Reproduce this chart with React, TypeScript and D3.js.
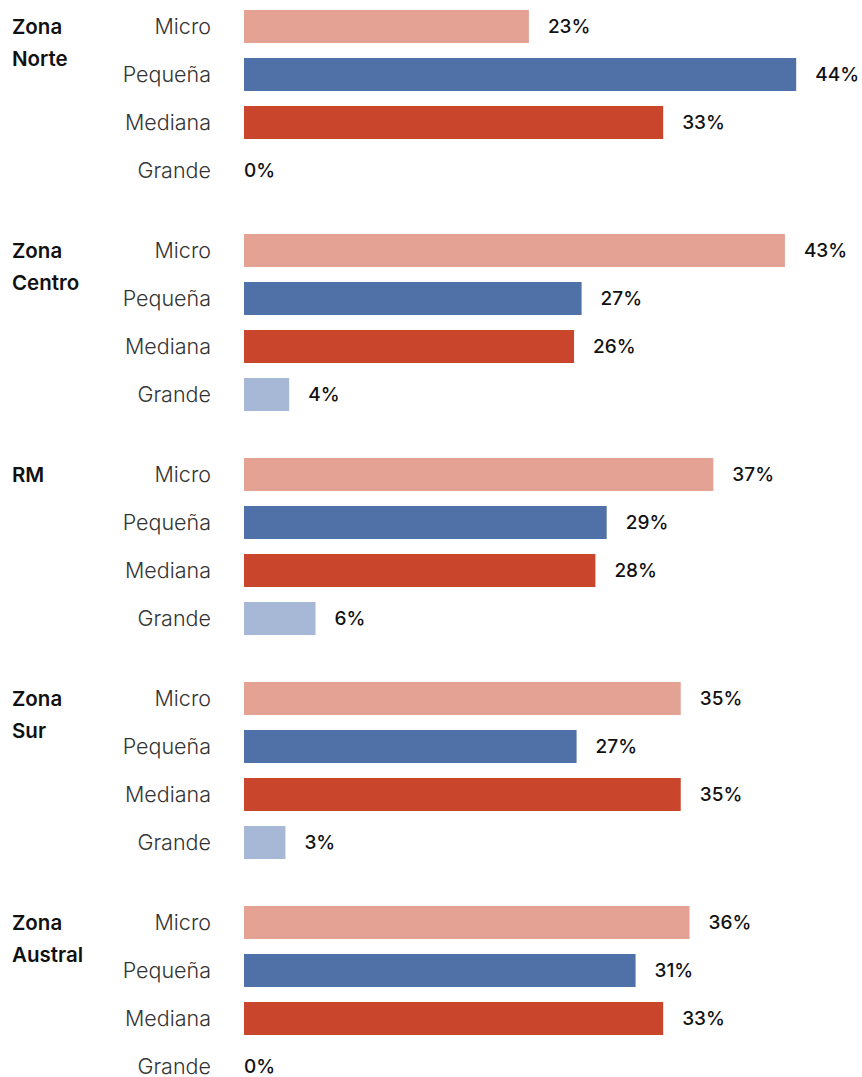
import React from "react";
import * as d3 from "d3";

// Share of companies by size, per zone (labels rounded)
const REGIONS = ["Zona Norte", "Zona Centro", "RM", "Zona Sur", "Zona Austral"];
const SIZES = ["Micro", "Pequeña", "Mediana", "Grande"];
const NORTE = [22.7, 44.0, 33.4, 0];
const CENTRO = [43.1, 26.9, 26.3, 3.6];
const RM = [37.4, 28.9, 28.0, 5.7];
const SUR = [34.8, 26.5, 34.8, 3.3];
const AUSTRAL = [35.5, 31.2, 33.4, 0];
const VALUES = [NORTE, CENTRO, RM, SUR, AUSTRAL];

const COLORS = ["#E4A294", "#5070A8", "#C9462D", "#A7B7D6"];

const W = 862;
const H = 1077;
const FONT = "Inter, 'Noto Sans', sans-serif";

const ROW = 48;
const BAR_H = 33;
const GROUP = 224;

export default function App() {
  const x = d3.scaleLinear().domain([0, 50]).range([244, 244 + 627.5]);
  const yGroup = d3
    .scaleBand<string>()
    .domain(REGIONS)
    .range([10, 10 + REGIONS.length * GROUP]);
  const yRow = d3
    .scaleBand<string>()
    .domain(SIZES)
    .range([0, SIZES.length * ROW - (ROW - BAR_H)])
    .paddingInner((ROW - BAR_H) / ROW);

  return (
    <svg
      width={W}
      height={H}
      style={{ position: "absolute", left: 0, top: 0, fontFamily: FONT }}
    >
      {REGIONS.map((region, gi) => {
        const g0 = yGroup(region) ?? 0;
        const words = region.split(" ");
        const top = (yRow(SIZES[0]) ?? 0) + yRow.bandwidth() / 2;
        return (
          <g key={region} transform={`translate(0,${g0})`}>
            {words.map((w, i) => (
              <text
                key={i}
                x={12}
                y={top + i * 32}
                dy="0.35em"
                fontSize={20.5}
                fontWeight={600}
                fill="#111"
              >
                {w}
              </text>
            ))}
            {SIZES.map((s, si) => {
              const v = VALUES[gi][si];
              const yc = (yRow(s) ?? 0) + yRow.bandwidth() / 2;
              return (
                <g key={s}>
                  <text
                    x={211}
                    y={yc}
                    dy="0.35em"
                    textAnchor="end"
                    fontSize={21.5}
                    fontWeight={300}
                    fill="#333"
                  >
                    {s}
                  </text>
                  {v > 0 && (
                    <rect
                      x={x(0)}
                      y={yRow(s)}
                      width={x(v) - x(0)}
                      height={yRow.bandwidth()}
                      fill={COLORS[si]}
                    />
                  )}
                  <text
                    x={v > 0 ? x(v) + 19 : x(0)}
                    y={yc}
                    dy="0.35em"
                    fontSize={19}
                    fontWeight={500}
                    fill="#111"
                  >
                    {Math.round(v)}%
                  </text>
                </g>
              );
            })}
          </g>
        );
      })}
    </svg>
  );
}
